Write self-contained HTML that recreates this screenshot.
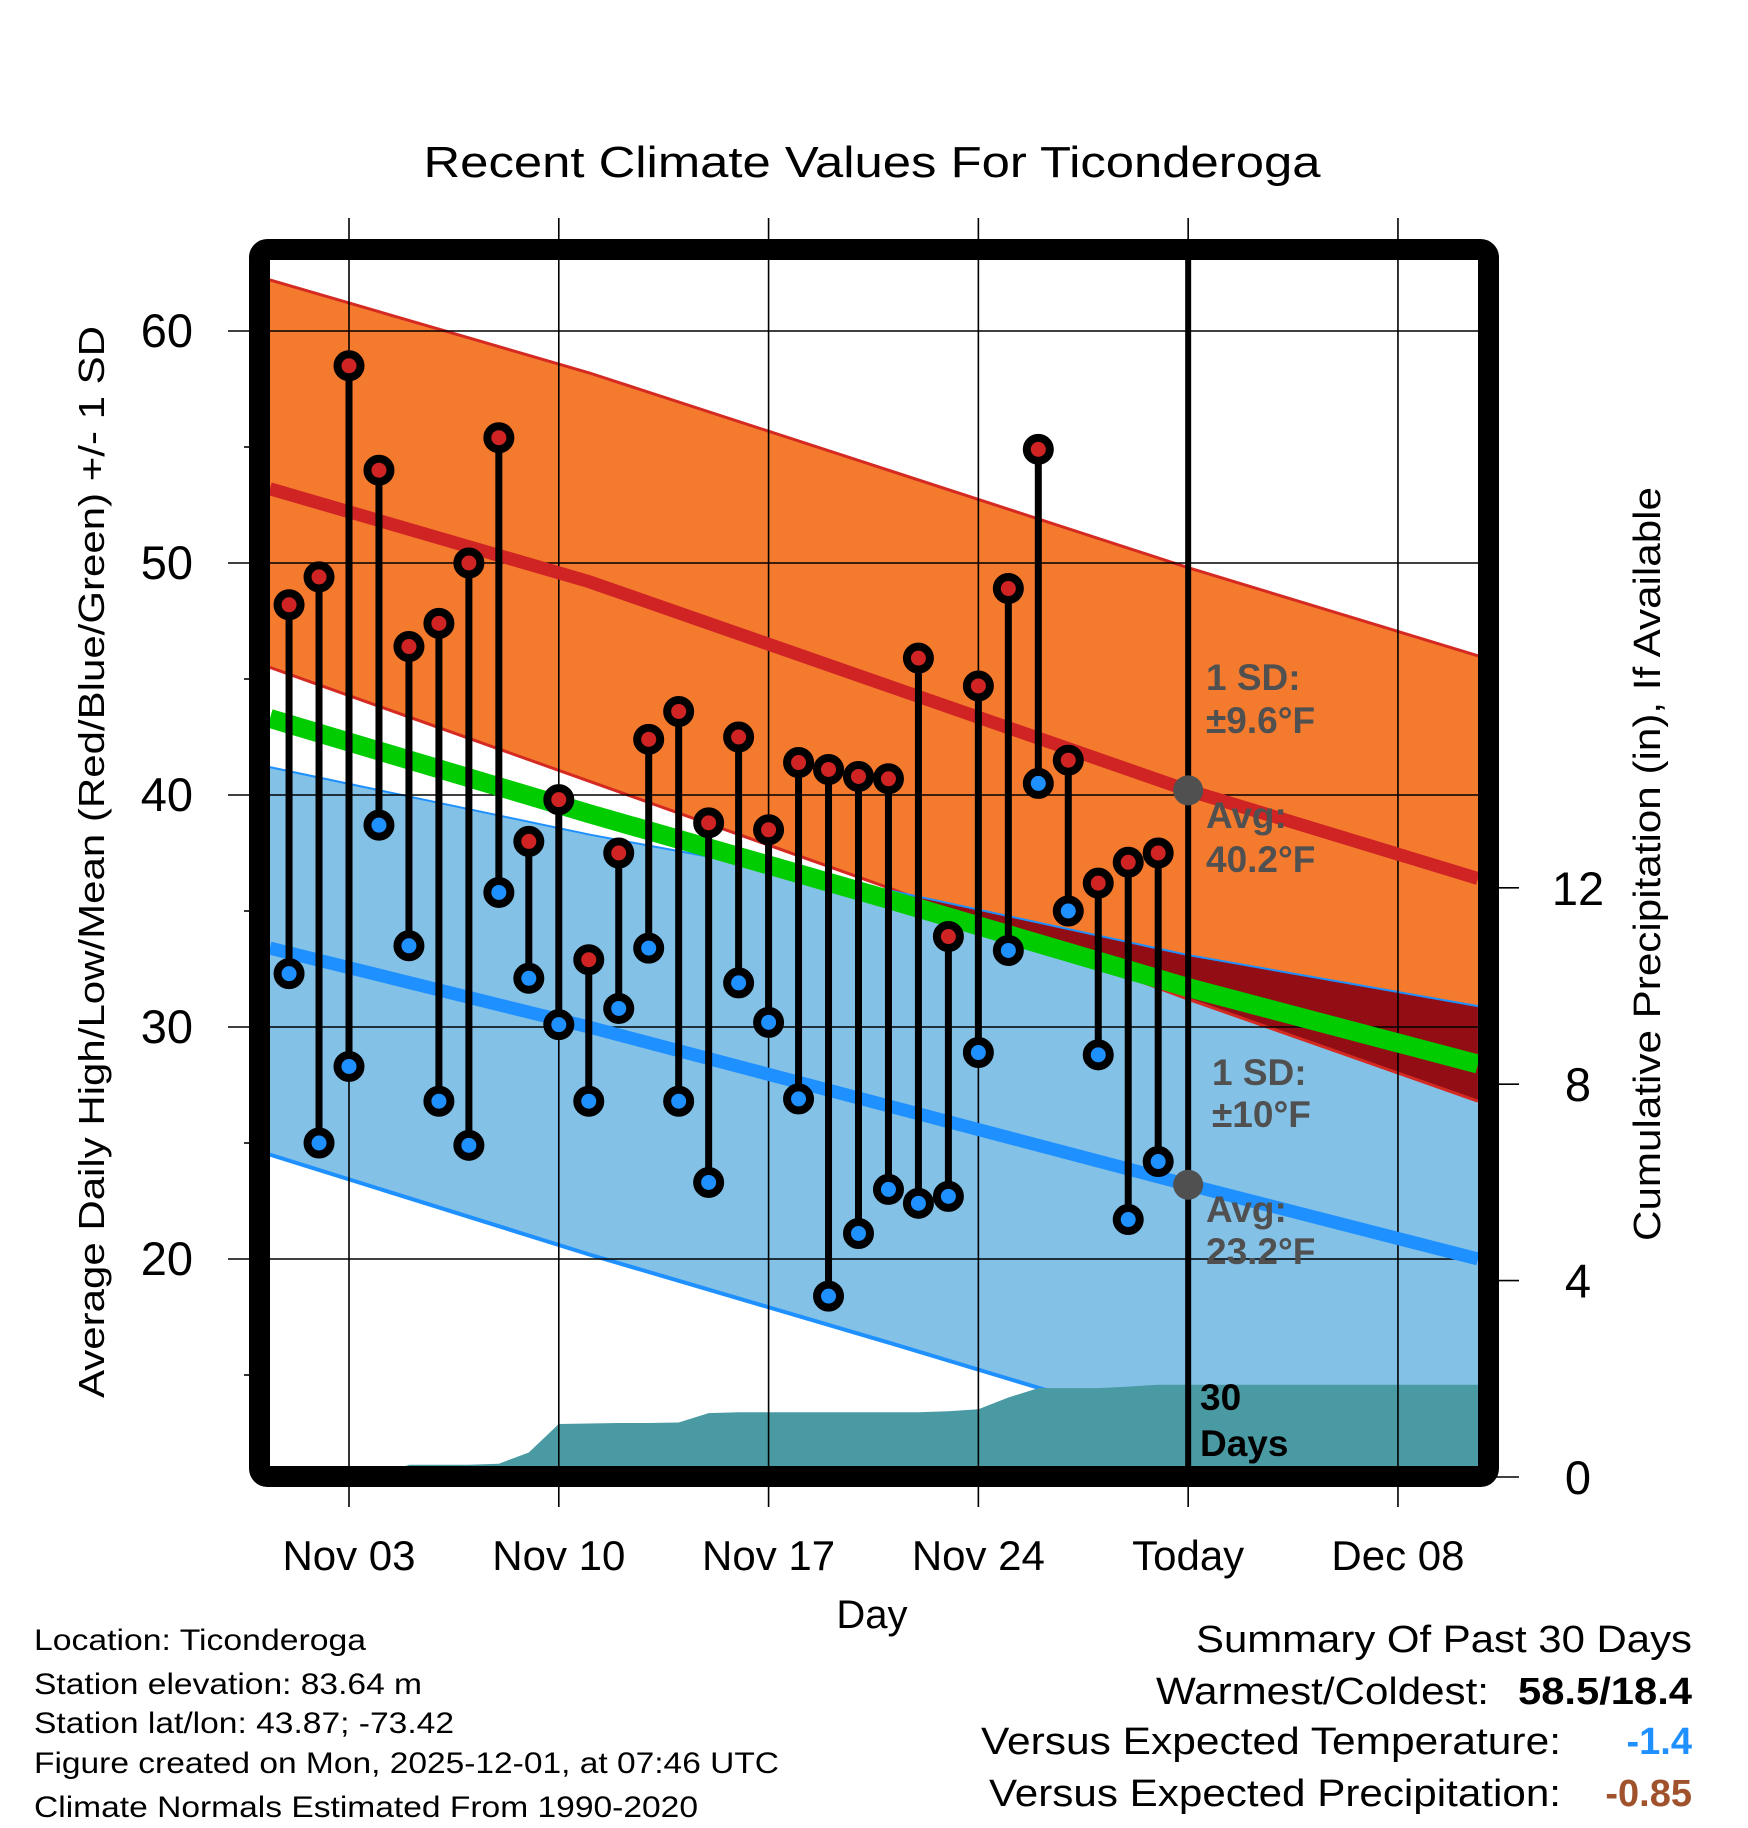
<!DOCTYPE html>
<html><head><meta charset="utf-8"><style>
html,body{margin:0;padding:0;background:#fff}
svg{display:block;font-family:"Liberation Sans",Arial,sans-serif}
</style></head><body>
<svg id="chart" width="1748" height="1828" viewBox="0 0 1748 1828" xmlns="http://www.w3.org/2000/svg">
<defs>
<clipPath id="plotClip"><rect x="270" y="260" width="1208" height="1206"/></clipPath>
<clipPath id="lowClip"><polygon id="lowClipPoly" points=""/></clipPath>
</defs>
<text x="872" y="177" font-size="44" text-anchor="middle" textLength="897" lengthAdjust="spacingAndGlyphs">Recent Climate Values For Ticonderoga</text>
<g id="plot" clip-path="url(#plotClip)"></g>
<g id="grid"></g>
<g id="marks" clip-path="url(#plotClip)"></g>
<rect x="259.5" y="249.5" width="1229" height="1227" rx="8" fill="none" stroke="#000" stroke-width="21"/>
<g id="axes"></g>
<text transform="translate(104,862) rotate(-90)" font-size="36" text-anchor="middle" textLength="1072" lengthAdjust="spacingAndGlyphs">Average Daily High/Low/Mean (Red/Blue/Green) +/- 1 SD</text>
<text transform="translate(1660,864) rotate(-90)" font-size="38" text-anchor="middle" textLength="754" lengthAdjust="spacingAndGlyphs">Cumulative Precipitation (in), If Available</text>
<text x="872" y="1628" font-size="40" text-anchor="middle">Day</text>
<g font-size="30">
<text x="34" y="1650" textLength="332" lengthAdjust="spacingAndGlyphs">Location: Ticonderoga</text>
<text x="34" y="1694" textLength="388" lengthAdjust="spacingAndGlyphs">Station elevation: 83.64 m</text>
<text x="34" y="1733" textLength="420" lengthAdjust="spacingAndGlyphs">Station lat/lon: 43.87; -73.42</text>
<text x="34" y="1773" textLength="745" lengthAdjust="spacingAndGlyphs">Figure created on Mon, 2025-12-01, at 07:46 UTC</text>
<text x="34" y="1817" textLength="664" lengthAdjust="spacingAndGlyphs">Climate Normals Estimated From 1990-2020</text>
</g>
<g font-size="38">
<text x="1692" y="1652" text-anchor="end" textLength="496" lengthAdjust="spacingAndGlyphs">Summary Of Past 30 Days</text>
<text x="1489" y="1704" text-anchor="end" textLength="333" lengthAdjust="spacingAndGlyphs">Warmest/Coldest:</text>
<text x="1692" y="1704" text-anchor="end" font-weight="bold" textLength="174" lengthAdjust="spacingAndGlyphs">58.5/18.4</text>
<text x="1561" y="1754" text-anchor="end" textLength="580" lengthAdjust="spacingAndGlyphs">Versus Expected Temperature:</text>
<text x="1692" y="1754" text-anchor="end" font-weight="bold" fill="#1e90ff">-1.4</text>
<text x="1561" y="1806" text-anchor="end" textLength="572" lengthAdjust="spacingAndGlyphs">Versus Expected Precipitation:</text>
<text x="1692" y="1806" text-anchor="end" font-weight="bold" fill="#a0522d">-0.85</text>
</g>
</svg>
<script>
// ---- data ----
const obsDays = [1,2,3,4,5,6,7,8,9,10,11,12,13,14,15,16,17,18,19,20,21,22,23,24,25,26,27,28,29,30];
const highs = [48.2,49.4,58.5,54.0,46.4,47.4,50.0,55.4,38.0,39.8,32.9,37.5,42.4,43.6,38.8,42.5,38.5,41.4,41.1,40.8,40.7,45.9,33.9,44.7,48.9,54.9,41.5,36.2,37.1,37.5];
const lows = [32.3,25.0,28.3,38.7,33.5,26.8,24.9,35.8,32.1,30.1,26.8,30.8,33.4,26.8,23.3,31.9,30.2,26.9,18.4,21.1,23.0,22.4,22.7,28.9,33.3,40.5,35.0,28.8,21.7,24.2];
const precipCum = [0,0,0,0,0.25,0.25,0.25,0.27,0.5,1.08,1.09,1.10,1.10,1.11,1.30,1.32,1.32,1.32,1.32,1.32,1.32,1.32,1.34,1.38,1.62,1.81,1.81,1.81,1.84,1.88];
const normDays = [0.36,11,21,31,40.67];
const normHighUpper = [62.2,58.2,54.0,49.8,46.0];
const normHigh = [53.2,49.2,44.7,40.2,36.4];
const normHighLower = [45.5,40.6,36.0,31.2,26.8];
const normMean = [43.3,39.2,35.5,31.7,28.4];
const normLowUpper = [41.2,38.3,35.9,33.1,30.9];
const normLow = [33.4,30.0,26.6,23.2,20.0];
const normLowLower = [24.5,20.2,16.4,12.5,8.6];
const yTicks = [20,30,40,50,60];
const yMinor = [15,25,35,45,55];
const y2Ticks = [0,4,8,12];
const xTickDays = [3,10,17,24,31,38];
const xTickLabels = ["Nov 03","Nov 10","Nov 17","Nov 24","Today","Dec 08"];
const todayDay = 31;
const todayHigh = 40.2, todayLow = 23.2;

// ---- scales ----
const xS = d => 349 + (d - 3) * 29.97;
const yS = v => 563 - (v - 50) * 23.2;
const y2S = p => 1477 - p * 49.1;
const NS = "http://www.w3.org/2000/svg";
function mk(tag, attrs, parent) {
  const e = document.createElementNS(NS, tag);
  for (const k in attrs) e.setAttribute(k, attrs[k]);
  parent.appendChild(e);
  return e;
}
const plot = document.getElementById('plot');
const grid = document.getElementById('grid');
const marks = document.getElementById('marks');
const axes = document.getElementById('axes');
const pts = arr => normDays.map((d, i) => xS(d) + ',' + yS(arr[i]));
const band = (up, lo) => pts(up).concat(pts(lo).reverse()).join(' ');

let e;
e = mk('polygon', {points: band(normHighUpper, normHighLower), fill: '#f47a2e'}, plot);


e = mk('polygon', {points: band(normLowUpper, normLowLower), fill: '#83c1e7'}, plot);


document.getElementById('lowClipPoly').setAttribute('points', band(normLowUpper, normLowLower));
e = mk('polygon', {points: band(normHighUpper, normHighLower), fill: '#930e14', 'clip-path': 'url(#lowClip)'}, plot);


function line(arr, color, w, name) {
  const l = mk('polyline', {points: pts(arr).join(' '), fill: 'none', stroke: color, 'stroke-width': w}, plot);
  
  
}
line(normHighUpper, '#d42a22', 3, 'high-upper-edge');
line(normHighLower, '#d42a22', 3, 'high-lower-edge');
line(normLowUpper, '#1e90ff', 2, 'low-upper-edge');
line(normLowLower, '#1e90ff', 4, 'low-lower-edge');

// precipitation area
let pp = [xS(0.36) + ',' + y2S(0)];
obsDays.forEach((d, i) => pp.push(xS(d) + ',' + y2S(precipCum[i])));
pp.push(xS(40.67) + ',' + y2S(precipCum[precipCum.length - 1]));
pp.push(xS(40.67) + ',' + y2S(-0.5));
pp.push(xS(0.36) + ',' + y2S(-0.5));
e = mk('polygon', {points: pp.join(' '), fill: '#4a9aa3'}, plot);



// gridlines
yTicks.forEach(v => {
  const g = mk('line', {x1: 228, x2: 1478, y1: yS(v), y2: yS(v), stroke: '#000', 'stroke-width': 1.6}, grid);
  
  
  const t = mk('text', {x: 193, y: yS(v) + 16, 'font-size': 47, 'text-anchor': 'end'}, axes);
  t.textContent = v;
  
  
});
yMinor.forEach(v => {
  const g = mk('line', {x1: 244, x2: 260, y1: yS(v), y2: yS(v), stroke: '#000', 'stroke-width': 1.6}, grid);
  
  
});
xTickDays.forEach((d, i) => {
  const g = mk('line', {x1: xS(d), x2: xS(d), y1: 218, y2: 1507, stroke: '#000', 'stroke-width': 1.6}, grid);
  
  
  const t = mk('text', {x: xS(d), y: 1570, 'font-size': 42, 'text-anchor': 'middle'}, axes);
  t.textContent = xTickLabels[i];
  
  
});
y2Ticks.forEach(p => {
  const g = mk('line', {x1: 1495, x2: 1519, y1: y2S(p), y2: y2S(p), stroke: '#000', 'stroke-width': 1.6}, axes);
  
  
  const t = mk('text', {x: 1578, y: y2S(p) + 17, 'font-size': 47, 'text-anchor': 'middle'}, axes);
  t.textContent = p;
  
  
});

// avg lines
function mline(arr, color, w, name) {
  const l = mk('polyline', {points: pts(arr).join(' '), fill: 'none', stroke: color, 'stroke-width': w}, marks);
  
  
}
mline(normMean, '#00cc00', 19, 'mean-normal-line');
mline(normHigh, '#d02424', 13, 'high-normal-line');
mline(normLow, '#1e90ff', 13, 'low-normal-line');

// today line
e = mk('line', {x1: xS(todayDay), x2: xS(todayDay), y1: 255, y2: 1470, stroke: '#000', 'stroke-width': 6}, marks);



// stems
obsDays.forEach((d, i) => {
  const x = xS(d);
  const s = mk('line', {x1: x, x2: x, y1: yS(highs[i]), y2: yS(lows[i]), stroke: '#000', 'stroke-width': 7}, marks);
  
  
  const h = mk('circle', {cx: x, cy: yS(highs[i]), r: 11.5, fill: '#d02424', stroke: '#000', 'stroke-width': 8}, marks);
  
  
  const l = mk('circle', {cx: x, cy: yS(lows[i]), r: 11.5, fill: '#1e90ff', stroke: '#000', 'stroke-width': 8}, marks);
  
  
});

e = mk('circle', {cx: xS(todayDay), cy: yS(todayHigh), r: 15, fill: '#505050'}, marks);


e = mk('circle', {cx: xS(todayDay), cy: yS(todayLow), r: 15, fill: '#505050'}, marks);



// annotations
function ann(txt, x, y, color, name) {
  const t = mk('text', {x: x, y: y, 'font-size': 37, 'font-weight': 'bold', fill: color}, marks);
  t.textContent = txt;
  
  
}
ann('1 SD:', 1206, 690, '#505050', 'high-sd-label');
ann('\u00b19.6\u00b0F', 1206, 733, '#505050', 'high-sd-value');
ann('Avg:', 1206, 828, '#505050', 'high-avg-label');
ann('40.2\u00b0F', 1206, 872, '#505050', 'high-avg-value');
ann('1 SD:', 1212, 1085, '#505050', 'low-sd-label');
ann('\u00b110\u00b0F', 1212, 1127, '#505050', 'low-sd-value');
ann('Avg:', 1206, 1222, '#505050', 'low-avg-label');
ann('23.2\u00b0F', 1206, 1264, '#505050', 'low-avg-value');
ann('30', 1200, 1410, '#000', 'precip-days-label');
ann('Days', 1200, 1456, '#000', 'precip-days-label-2');
</script>
</body></html>
